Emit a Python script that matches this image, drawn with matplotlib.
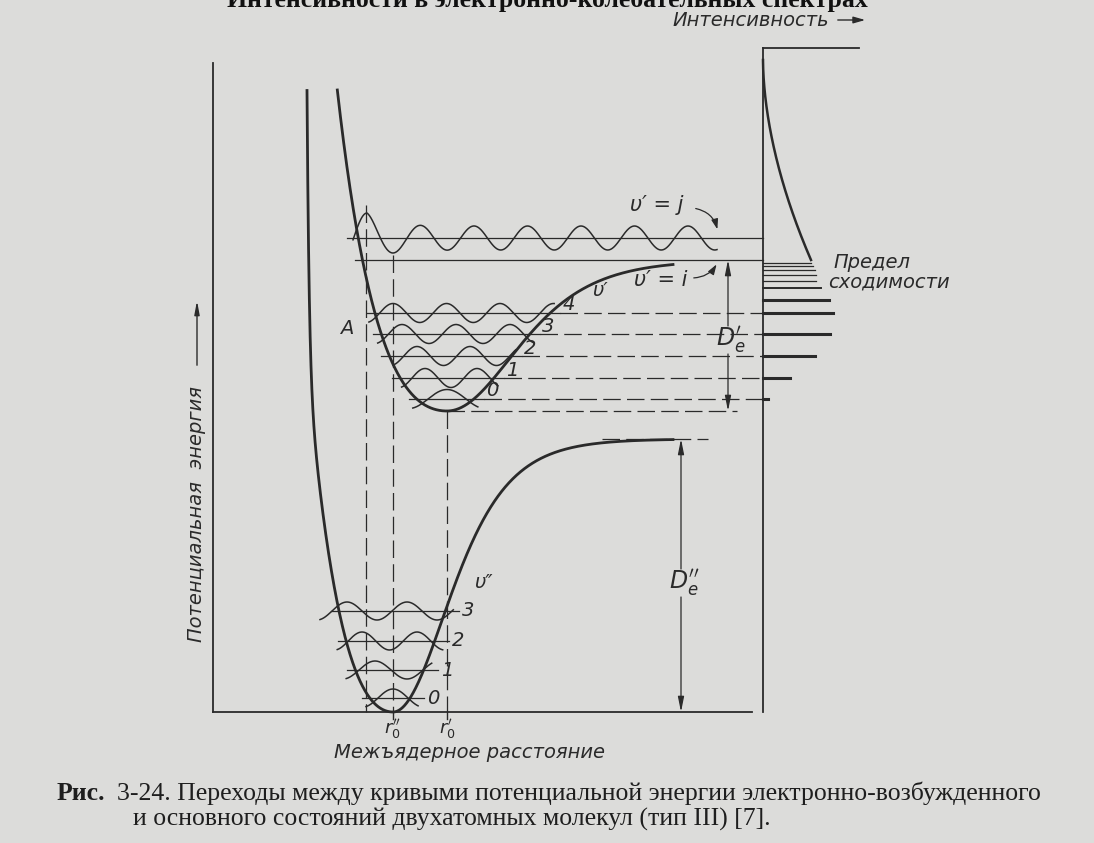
import numpy as np
import matplotlib.pyplot as plt

# Values.
# r = distance from the energy axis, E = height above the r axis (drawing units)
r0_lower, De_lower = 180, 273            # ground state: r0'', D''e
a_lower_left, a_lower_right = 0.0088, 0.0135
wall_lower_r, wall_lower_E = 86, 272     # steep repulsive wall of the ground state

r0_upper, Emin_upper, De_upper = 234, 301, 151   # excited state: r0', bottom, D'e
a_upper_left, a_upper_right = 0.0082, 0.0108

E_top = 622                              # walls are drawn up to here

lower_levels = [14, 42, 71, 101]         # v'' = 0..3
lower_peaks = [180, 162, 149, 134]
lower_periods = [60, 64, 55, 60]

upper_levels = [313, 334, 356, 378, 399]  # v' = 0..4
upper_peaks = [234, 212, 204, 189, 180]
upper_periods = [76, 52, 53, 54, 53.5]

E_j = 474                                # v' = j (continuum)
j_peak, j_period = 154, 53.5

spec_r, spec_top, spec_width = 550, 664, 96
band_E = [313, 334, 356, 378, 399, 412, 424, 431, 437, 442, 446, 449]
band_I = [5, 27, 52, 67, 70, 66, 58, 53, 53, 52, 50, 48]
cont_I, cont_span, cont_pow = 48, 200, 1.8

ink = '#2a2a2a'
paper = '#dcdcda'

plt.rcParams['font.family'] = 'DejaVu Sans'


def lower_V(d):
    # d = r0 - r
    left = De_lower * (np.exp(a_lower_left * d) - 1) ** 2 + wall_lower_E * (d / wall_lower_r) ** 40
    right = De_lower * np.tanh(a_lower_right * d) ** 2
    return np.where(d > 0, left, right)


def upper_V(d):
    left = De_upper * (np.exp(a_upper_left * d) - 1) ** 2
    right = De_upper * np.tanh(a_upper_right * d) ** 2
    return Emin_upper + np.where(d > 0, left, right)


def turning(V, r0, E, dmax):
    d = np.linspace(0, dmax, 5000)
    return r0 - np.interp(E, V(d), d), r0 + np.interp(E, V(-d), d)


fig = plt.figure(figsize=(10.94, 8.43), dpi=100, facecolor=paper)
ax = fig.add_axes([0, 0, 1, 1])
ax.set_xlim(-213, 881)
ax.set_ylim(-131, 712)
ax.axis('off')
ax.set_facecolor(paper)

thin = dict(color=ink, lw=0.9)
dash = dict(color=ink, lw=0.9, ls=(0, (14, 5)))
wave_kw = dict(color=ink, lw=1.1)

# axes of the diagram
ax.plot([0, 0], [0, 649], color=ink, lw=1.3)
ax.plot([0, 539], [0, 0], color=ink, lw=1.3)

# potential curves
d = np.concatenate([np.linspace(wall_lower_r, 0, 4000), np.linspace(0, -280, 800)])
ax.plot(r0_lower - d, lower_V(d), color=ink, lw=2.0)
d_top = np.log(1 + np.sqrt((E_top - Emin_upper) / De_upper)) / a_upper_left
d = np.linspace(d_top, -226, 2000)
ax.plot(r0_upper - d, upper_V(d), color=ink, lw=2.0)

# ground state levels and wave functions
for n, (E, pk, P) in enumerate(zip(lower_levels, lower_peaks, lower_periods)):
    tl, tr = turning(lower_V, r0_lower, E, 280)
    ax.plot([tl - 8, tr + 14], [E, E], **thin)
    r = np.linspace(pk - 0.45 * P, tr + 8, 300)
    ax.plot(r, E + 9 * np.cos(2 * np.pi * (r - pk) / P), **wave_kw)
    ax.text(tr + 17, E, str(n), fontsize=14, style='italic', color=ink, va='center')

# excited state levels and wave functions
E_lim = Emin_upper + De_upper
for n, (E, pk, P) in enumerate(zip(upper_levels, upper_peaks, upper_periods)):
    tl, tr = turning(upper_V, r0_upper, E, 260)
    ax.plot([tl - 8, tr + 10], [E, E], **thin)
    ax.plot([tr + 10, spec_r], [E, E], **dash)
    r = np.linspace(pk - 0.45 * P, tr + 4, 300)
    ax.plot(r, E + 9.5 * np.cos(2 * np.pi * (r - pk) / P), **wave_kw)
    ax.text(tr + 12, E + 8, str(n), fontsize=14, style='italic', color=ink, va='center')

# v' = i and v' = j
ax.plot([142, spec_r], [E_lim, E_lim], **thin)
ax.plot([134, spec_r], [E_j, E_j], **thin)
r = np.linspace(j_peak - 14, 504, 900)
env = 12 + 13 * np.exp(-np.clip(r - j_peak, 0, None) / 18)
ax.plot(r, E_j + env * np.cos(2 * np.pi * (r - j_peak) / j_period), **wave_kw)

# vertical transitions and reference lines
ax.plot([153, 153], [507, 0], **dash)
ax.plot([180, 180], [457, 0], **dash)
ax.plot([r0_upper, r0_upper], [Emin_upper, 0], **dash)
ax.plot([r0_upper, 524], [Emin_upper, Emin_upper], **dash)
ax.plot([389, 495], [De_lower, De_lower], **dash)
for rr in (r0_lower, r0_upper):
    ax.plot([rr, rr], [0, -7], color=ink, lw=1.0)

# dissociation energies
arrow = dict(arrowstyle='-|>,head_length=0.9,head_width=0.18', color=ink, lw=0.9,
             shrinkA=0, shrinkB=0)
for rr, lo, hi, lab_E, lab in [(515, Emin_upper, E_lim, 372, r"$D_e'$"),
                               (468, 0, De_lower, 129, r"$D_e''$")]:
    ax.annotate('', xy=(rr, hi), xytext=(rr, lab_E + 14), arrowprops=arrow)
    ax.annotate('', xy=(rr, lo), xytext=(rr, lab_E - 14), arrowprops=arrow)
    ax.text(rr + 3, lab_E, lab, fontsize=17, color=ink, ha='center', va='center')

# spectrum
ax.plot([spec_r, spec_r], [0, spec_top], color=ink, lw=1.3)
ax.plot([spec_r, spec_r + spec_width], [spec_top, spec_top], color=ink, lw=1.3)
for E, I in zip(band_E, band_I):
    lw = 2.2 if E <= 412 else (1.4 if E <= 424 else 0.9)
    ax.plot([spec_r, spec_r + I], [E, E], color=ink, lw=lw)
Ec = np.linspace(E_lim, E_lim + cont_span, 200)
ax.plot(spec_r + cont_I * (1 - (Ec - E_lim) / cont_span) ** cont_pow, Ec, color=ink, lw=1.8)

# labels
lab = dict(fontsize=14, style='italic', color=ink)
ax.text(620, 450, 'Предел', ha='left', va='center', **lab)
ax.text(615, 430, 'сходимости', ha='left', va='center', **lab)
ax.text(459, 692, 'Интенсивность', ha='left', va='center', **lab)
ax.annotate('', xy=(655, 692), xytext=(622, 692),
            arrowprops=dict(arrowstyle='-|>,head_length=0.7,head_width=0.2', color=ink, lw=1.0))
ax.text(444, 507, "υ′ = j", ha='center', va='center', fontsize=15, style='italic', color=ink)
ax.text(448, 432, "υ′ = i", ha='center', va='center', fontsize=15, style='italic', color=ink)
ax.annotate('', xy=(505, 480), xytext=(480, 504),
            arrowprops=dict(arrowstyle='-|>,head_length=0.6,head_width=0.2', color=ink, lw=0.9,
                            connectionstyle='arc3,rad=-0.35'))
ax.annotate('', xy=(505, 450), xytext=(478, 434),
            arrowprops=dict(arrowstyle='-|>,head_length=0.6,head_width=0.2', color=ink, lw=0.9,
                            connectionstyle='arc3,rad=0.3'))
ax.text(387, 422, "υ′", ha='center', va='center', **lab)
ax.text(270, 129, "υ″", ha='center', va='center', **lab)
ax.text(134, 384, 'A', ha='center', va='center', **lab)
ax.text(r0_lower, -17, r"$r_0''$", ha='center', va='center', fontsize=13, color=ink)
ax.text(r0_upper, -17, r"$r_0'$", ha='center', va='center', fontsize=13, color=ink)
ax.text(256, -41, 'Межъядерное расстояние', ha='center', va='center', **lab)
ax.text(-16, 198, 'Потенциальная  энергия', ha='center', va='center', rotation=90, **lab)
ax.annotate('', xy=(-16, 414), xytext=(-16, 344),
            arrowprops=dict(arrowstyle='-|>,head_length=0.8,head_width=0.15', color=ink, lw=1.0))

# heading (cut by the page edge, as in the scan) and caption
ax.text(334, 705, 'Интенсивности в электронно-колебательных спектрах', ha='center',
        va='baseline', fontsize=18.5, fontweight='bold', family='Liberation Serif', color='#111111')
cap = dict(fontsize=18.5, family='Liberation Serif', color='#1e1e1e', va='baseline')
ax.text(-156, -88, 'Рис.', fontweight='bold', **cap)
ax.text(-96, -88, '3-24. Переходы между кривыми потенциальной энергии электронно-возбужденного', **cap)
ax.text(-80, -114, 'и основного состояний двухатомных молекул (тип III) [7].', **cap)

fig.savefig('out.png', dpi=100, facecolor=paper)
